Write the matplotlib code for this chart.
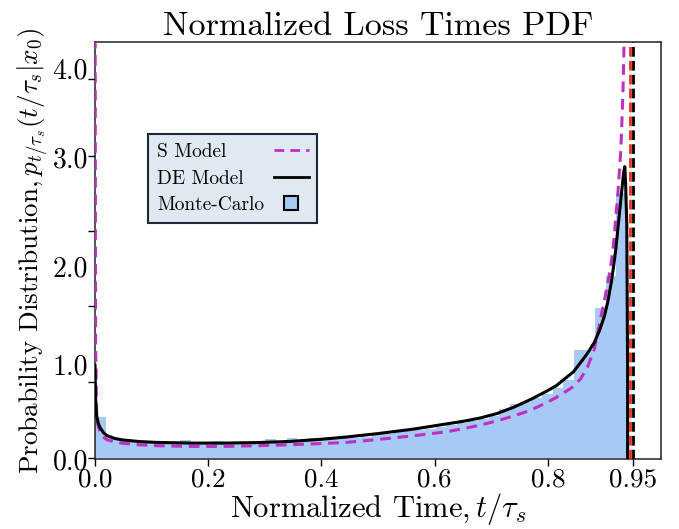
import matplotlib
matplotlib.use("Agg")
import matplotlib.pyplot as plt
from matplotlib.lines import Line2D
import numpy as np

plt.rcParams['font.family'] = ['cmr10', 'DejaVu Serif']
plt.rcParams['mathtext.fontset'] = 'cm'
plt.rcParams['axes.formatter.use_mathtext'] = True

# DE model curve
x_de = [0.0, 0.001, 0.003, 0.006, 0.009, 0.015, 0.021, 0.035, 0.05, 0.08, 0.109, 0.168, 0.227,
        0.286, 0.345, 0.40, 0.444, 0.50, 0.563, 0.622, 0.65, 0.681, 0.71, 0.740, 0.77, 0.799,
        0.815, 0.829, 0.845, 0.858, 0.870, 0.882, 0.891, 0.900, 0.906, 0.912, 0.916, 0.920,
        0.923, 0.926, 0.929, 0.932, 0.934, 0.936, 0.9375, 0.9395, 0.941, 0.941]
y_de = [0.95, 0.62, 0.43, 0.35, 0.31, 0.26, 0.23, 0.20, 0.184, 0.168, 0.160, 0.153, 0.153,
        0.158, 0.170, 0.192, 0.215, 0.250, 0.296, 0.350, 0.375, 0.41, 0.455, 0.52, 0.60, 0.687,
        0.74, 0.806, 0.88, 0.977, 1.07, 1.18, 1.30, 1.45, 1.60, 1.79, 1.95, 2.13,
        2.30, 2.47, 2.64, 2.81, 2.92, 2.98, 2.80, 2.40, 0.9, 0.0]

# S model curve
x_s = [0.0003, 0.001, 0.003, 0.006, 0.009, 0.015, 0.021, 0.035, 0.05, 0.08, 0.109, 0.168, 0.227,
       0.286, 0.345, 0.40, 0.444, 0.50, 0.563, 0.622, 0.65, 0.681, 0.71, 0.740, 0.77, 0.799,
       0.815, 0.829, 0.845, 0.858, 0.870, 0.882, 0.888, 0.894, 0.900, 0.906, 0.911, 0.915,
       0.918, 0.920, 0.923, 0.925, 0.927, 0.929, 0.931, 0.933, 0.935]
y_s = [4.3, 1.2, 0.43, 0.32, 0.265, 0.215, 0.187, 0.165, 0.150, 0.135, 0.126, 0.119, 0.119,
       0.126, 0.136, 0.148, 0.160, 0.190, 0.228, 0.269, 0.30, 0.337, 0.38, 0.43, 0.49, 0.57,
       0.62, 0.67, 0.73, 0.81, 0.93, 1.11, 1.27, 1.45, 1.61, 1.79, 1.96, 2.13,
       2.30, 2.47, 2.64, 2.81, 2.98, 3.15, 3.45, 3.8, 4.3]

# Monte-Carlo histogram (50 bins on [0, 0.94])
hist_start = 0.0
hist_end = 0.94
hist_vals = [0.42, 0.22, 0.19, 0.18, 0.17, 0.165, 0.16, 0.155, 0.18, 0.15,
             0.145, 0.17, 0.15, 0.15, 0.15, 0.155, 0.19, 0.165, 0.21, 0.17,
             0.20, 0.18, 0.19, 0.20, 0.21, 0.22, 0.235, 0.25, 0.265, 0.28,
             0.29, 0.30, 0.32, 0.335, 0.36, 0.38, 0.40, 0.43, 0.50, 0.55,
             0.57, 0.61, 0.66, 0.72, 0.80, 1.10, 1.10, 1.53, 1.86, 2.71]

# Vertical reference lines
vline_red = 0.945
vline_black = 0.950

xticks = [0.0, 0.2, 0.4, 0.6, 0.8, 0.95]
xticklabels = ['0.0', '0.2', '0.4', '0.6', '0.8', '0.95']
ytick_marks = [0.0, 0.776, 1.551, 2.327, 3.092, 3.878]
ylabel_pos = [-0.01, 0.959, 1.959, 3.08, 3.99]
yticklabels = ['0.0', '1.0', '2.0', '3.0', '4.0']

fig = plt.figure(figsize=(6.79, 5.29), dpi=100)
ax = fig.add_axes([0.1399, 0.1323, 0.8336, 0.7883])

edges = np.linspace(hist_start, hist_end, len(hist_vals) + 1)
ax.bar(edges[:-1], hist_vals, width=np.diff(edges), align='edge',
       color='#a6c9f6', edgecolor='none', zorder=1)

ax.plot(x_s, y_s, color='#c030c0', lw=2.2, ls=(0, (3.5, 2.2)), zorder=3)
ax.plot(x_de, y_de, color='black', lw=2.2, zorder=4)
ax.axvline(vline_red, color='#e8301c', lw=2.0, ls=(0, (3.5, 1.5)), zorder=5)
ax.axvline(vline_black, color='black', lw=2.0, ls=(0, (3.5, 1.5)), zorder=5)

ax.set_xlim(0, 1.0)
ax.set_ylim(0, 4.255)

ax.set_xticks(xticks)
ax.set_xticklabels(xticklabels)
ax.set_yticks(ylabel_pos)
ax.set_yticklabels(yticklabels)
ax.set_yticks(ytick_marks, minor=True)
ax.tick_params(axis='y', which='major', length=0, pad=5, labelsize=20)
ax.tick_params(axis='y', which='minor', length=5, width=1.0, direction='out')
ax.tick_params(axis='x', which='major', length=5, width=1.0, direction='out', labelsize=19.5, pad=1.5)

for sp in ax.spines.values():
    sp.set_linewidth(1.1)
    sp.set_color('#222222')

ax.set_title('Normalized Loss Times PDF', fontsize=24.5, pad=5)
ax.set_xlabel(r'Normalized Time$,t/\tau_s$', fontsize=22, labelpad=-0.5)
ax.set_ylabel(r'Probability Distribution$,p_{t/\tau_s}(t/\tau_s|x_0)$', fontsize=19.5, labelpad=2)

handles = [
    Line2D([], [], color='#c030c0', lw=2.0, ls=(0, (3.5, 2.2))),
    Line2D([], [], color='black', lw=2.0),
    Line2D([], [], ls='none', marker='s', markersize=10, markerfacecolor='#a6c9f6',
           markeredgecolor='black', markeredgewidth=1.5),
]
leg = ax.legend(handles, ['S Model', 'DE Model', 'Monte-Carlo'], loc='upper left',
                bbox_to_anchor=(0.094, 0.779), borderaxespad=0, markerfirst=False,
                fontsize=14, fancybox=False, framealpha=1, facecolor='#e0e8f1',
                edgecolor='#1c2a38', handlelength=1.8, handletextpad=0.5,
                labelspacing=0.45, borderpad=0.45)
leg.get_frame().set_linewidth(1.5)

# left-align legend text while keeping handles aligned on the right
fig.canvas.draw()
renderer = fig.canvas.get_renderer()
texts = leg.get_texts()
widths = [t.get_window_extent(renderer).width for t in texts]
maxw = max(widths)
col = leg._legend_handle_box.get_children()[0]
col.align = 'left'
for row, w in zip(col.get_children(), widths):
    row.sep = row.sep + (maxw - w) * 72.0 / fig.dpi

fig.savefig('out.png', dpi=100)
